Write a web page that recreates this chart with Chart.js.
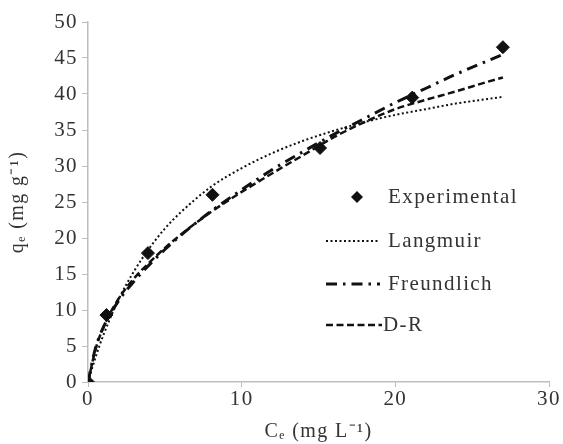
<!DOCTYPE html>
<html>
<head>
<meta charset="utf-8">
<script src="https://cdn.jsdelivr.net/npm/chart.js@4/dist/chart.umd.min.js"></script>
<style>
    html, body { margin: 0; padding: 0; background: #fff; }
    #wrap { width: 563px; height: 444px; position: relative; }
</style>
</head>
<body>
<div id="wrap"><canvas id="isotherm"></canvas></div>
<script>
// measured points
const expC = [0, 1.2, 3.9, 8.1, 15.1, 21.1, 27];
const expQ = [0, 9.3, 17.9, 26.0, 32.5, 39.5, 46.5];

// model curves, sampled on a common Ce grid
const fitC = [0, 0.5, 1, 2, 3, 4, 5, 6, 8, 10, 12, 14, 16, 18, 20, 22, 24, 26, 27];
const langmuirQ = [0, 3.5, 6.5, 11.5, 15.4, 18.6, 21.3, 23.5, 27.1, 29.7, 31.8, 33.5, 34.9, 36.1, 37.1, 37.9, 38.7, 39.3, 39.6];
const freundlichQ = [0, 4.8, 7.6, 11.3, 14.0, 16.3, 18.4, 20.3, 23.7, 26.7, 29.5, 32.0, 34.4, 36.6, 38.8, 40.8, 42.8, 44.6, 45.5];
const drQ = [0, 4.6, 7.6, 11.6, 14.4, 16.6, 18.6, 20.4, 23.6, 26.4, 29.0, 31.5, 34.0, 36.1, 37.9, 39.2, 40.4, 41.7, 42.3];

const xTicks = [0, 10, 20, 30];
const yTicks = [0, 5, 10, 15, 20, 25, 30, 35, 40, 45, 50];

const pairs = (xs, ys) => xs.map((x, i) => ({ x, y: ys[i] }));
const serif = '"Liberation Serif", "Times New Roman", serif';
const textColor = '#333';
const axisGrey = '#bdbdbd';
const spacing = '1.4px';

const legendItems = [
    { label: 'Experimental', kind: 'marker', y: 197, textX: 388 },
    { label: 'Langmuir', dash: [2, 2.5], width: 2, y: 241, lineEnd: 380, textX: 388 },
    { label: 'Freundlich', dash: [11, 6, 2.5, 6], width: 3, y: 284, lineEnd: 380, textX: 388 },
    { label: 'D-R', dash: [7, 3.5], width: 2.5, y: 325, lineEnd: 382, textX: 383 },
];

// wide serif lettering everywhere on the canvas
const wideText = {
    id: 'wideText',
    beforeUpdate(chart) { chart.ctx.letterSpacing = spacing; },
    beforeDraw(chart) { chart.ctx.letterSpacing = spacing; },
};

// legend sits inside the plot area, drawn by hand
const insideLegend = {
    id: 'insideLegend',
    afterDraw(chart) {
        const ctx = chart.ctx;
        ctx.save();
        ctx.font = `21px ${serif}`;
        ctx.textBaseline = 'middle';
        legendItems.forEach((item) => {
            if (item.kind === 'marker') {
                ctx.fillStyle = '#111';
                ctx.beginPath();
                ctx.moveTo(357, item.y - 6);
                ctx.lineTo(363, item.y);
                ctx.lineTo(357, item.y + 6);
                ctx.lineTo(351, item.y);
                ctx.closePath();
                ctx.fill();
            } else {
                ctx.strokeStyle = '#111';
                ctx.lineWidth = item.width;
                ctx.setLineDash(item.dash);
                ctx.beginPath();
                ctx.moveTo(326, item.y);
                ctx.lineTo(item.lineEnd, item.y);
                ctx.stroke();
                ctx.setLineDash([]);
            }
            ctx.fillStyle = textColor;
            ctx.fillText(item.label, item.textX, item.y);
        });
        ctx.restore();
    },
};

const curve = (label, ys, dash, width) => ({
    label,
    type: 'line',
    data: pairs(fitC, ys),
    borderColor: '#111',
    borderWidth: width,
    borderDash: dash,
    pointRadius: 0,
    fill: false,
    cubicInterpolationMode: 'monotone',
});

new Chart(document.getElementById('isotherm'), {
    type: 'scatter',
    data: {
        datasets: [
            curve('Langmuir', langmuirQ, [2, 2.5], 2),
            curve('Freundlich', freundlichQ, [11, 6, 2.5, 6], 3),
            curve('D-R', drQ, [7, 3.5], 2.5),
            {
                label: 'Experimental',
                data: pairs(expC, expQ),
                pointStyle: 'rectRot',
                pointRadius: 6.5,
                backgroundColor: '#111',
                borderColor: '#111',
            },
        ],
    },
    options: {
        responsive: true,
        maintainAspectRatio: false,
        animation: false,
        layout: { padding: { top: 22, right: 14, left: 6, bottom: 0 } },
        plugins: { legend: { display: false }, tooltip: { enabled: false } },
        scales: {
            x: {
                type: 'linear',
                min: 0,
                max: 30,
                afterFit: (scale) => { scale.height = 62; },
                afterBuildTicks: (scale) => { scale.ticks = xTicks.map((v) => ({ value: v })); },
                border: { color: axisGrey, width: 1.5 },
                grid: { drawOnChartArea: false, color: axisGrey, tickLength: 5 },
                ticks: { color: textColor, padding: 0, font: { family: serif, size: 21 } },
                title: {
                    display: true,
                    text: 'Cₑ (mg L⁻¹)',
                    color: textColor,
                    padding: { top: 0, bottom: 0 },
                    font: { family: serif, size: 20 },
                },
            },
            y: {
                min: 0,
                max: 50,
                afterFit: (scale) => { scale.width = 82; },
                afterBuildTicks: (scale) => { scale.ticks = yTicks.map((v) => ({ value: v })); },
                border: { color: axisGrey, width: 1.5 },
                grid: { drawOnChartArea: false, color: axisGrey, tickLength: 6 },
                ticks: { color: textColor, padding: 4, font: { family: serif, size: 21 } },
                title: {
                    display: true,
                    text: 'qₑ (mg g⁻¹)',
                    color: textColor,
                    padding: { top: 0, bottom: 0 },
                    font: { family: serif, size: 20 },
                },
            },
        },
    },
    plugins: [wideText, insideLegend],
});
</script>
</body>
</html>
